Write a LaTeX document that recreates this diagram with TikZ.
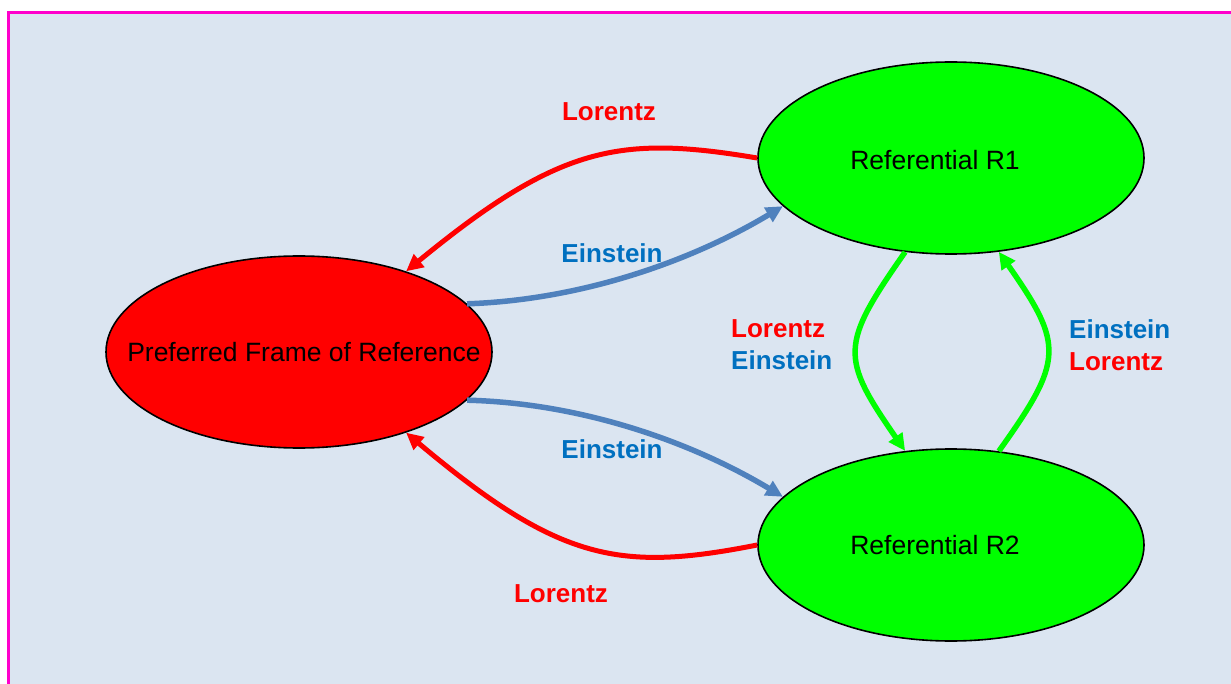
\documentclass[tikz,border=0pt]{standalone}
\usepackage{fontspec}
\setmainfont{Liberation Sans}
\usetikzlibrary{arrows.meta,shapes.geometric}
\definecolor{framebg}{HTML}{DBE5F1}
\definecolor{framepink}{HTML}{FF00CC}
\definecolor{arrowblue}{HTML}{4F81BD}
\definecolor{textblue}{HTML}{0070C0}
\definecolor{lgreen}{HTML}{00FF00}
\definecolor{lred}{HTML}{FF0000}

\begin{document}
\begin{tikzpicture}[x=1pt,y=-1pt,
  frame/.style={ellipse, draw=black, line width=1.6pt, minimum width=386pt,
    minimum height=192pt, inner sep=0pt},
  frametext/.style={font=\fontsize{26.5}{31}\selectfont, inner sep=0pt},
  lbl/.style={font=\fontsize{26}{32}\selectfont\bfseries, inner sep=0pt, align=left},
  tip/.style={-{Triangle[length=17pt,width=16pt]}},
  redarrow/.style={draw=lred, line width=5pt, tip},
  bluearrow/.style={draw=arrowblue, line width=5.5pt, tip},
  greenarrow/.style={draw=lgreen, line width=5.5pt, tip}]

  % page and framed panel
  \useasboundingbox (0,0) rectangle (1231,684);
  \fill[white] (0,0) rectangle (1231,684);
  \filldraw[fill=framebg, draw=framepink, line width=2.8pt] (8.7,12.3) rectangle (1260,710);

  % reference frames
  \node[frame, fill=lred,
        label={[frametext, xshift=5pt]center:Preferred Frame of Reference}] (pf) at (299,352) {};
  \node[frame, fill=lgreen,
        label={[frametext, xshift=-16pt, yshift=-2pt]center:Referential R1}] (r1) at (951,158) {};
  \node[frame, fill=lgreen,
        label={[frametext, xshift=-16pt]center:Referential R2}] (r2) at (951,545) {};

  % transformations between the frames
  \draw[redarrow]  (r1.180) .. controls (620,135) and (560,145) .. (pf.37);
  \draw[bluearrow] (pf.16)  .. controls (580,300) and (690,262) .. (r1.196);
  \draw[bluearrow] (pf.-16) .. controls (580,403) and (690,441) .. (r2.164);
  \draw[redarrow]  (r2.180) .. controls (620,572) and (560,562) .. (pf.-37);
  \draw[greenarrow] (r1.244) .. controls (840,345) and (840,357) .. (r2.116);
  \draw[greenarrow] (r2.63) .. controls (1064,360) and (1064,345) .. (r1.-63);

  % labels
  \node[lbl, text=lred] (l1) at (609,112) {Lorentz};
  \node[lbl, text=textblue] (e1) at (612,253) {Einstein};
  \node[lbl, anchor=west] (le) at (731,345) {\textcolor{lred}{Lorentz}\\\textcolor{textblue}{Einstein}};
  \node[lbl, anchor=west] (el) at (1069,345) {\textcolor{textblue}{Einstein}\\\textcolor{lred}{Lorentz}};
  \node[lbl, text=textblue] (e2) at (612,449) {Einstein};
  \node[lbl, text=lred] (l2) at (561,594) {Lorentz};
\end{tikzpicture}
\end{document}
